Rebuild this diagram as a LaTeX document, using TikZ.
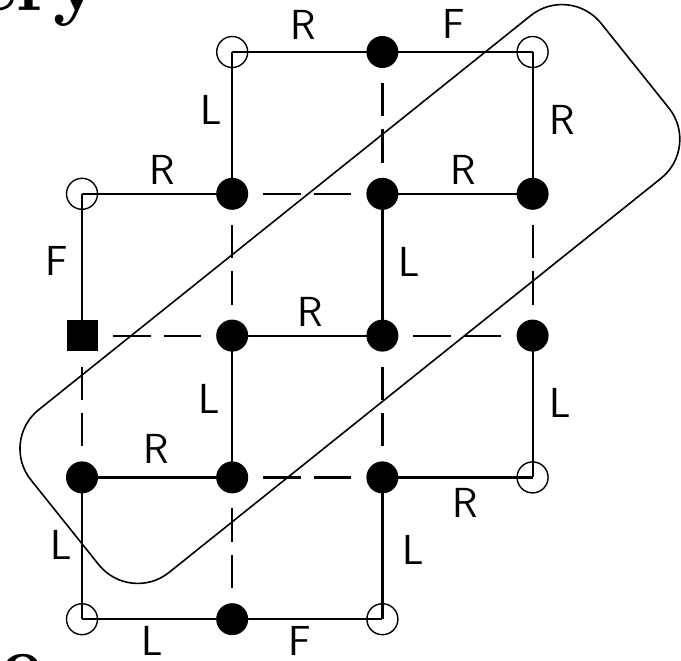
\documentclass[tikz,border=0pt]{standalone}
\usepackage{fontspec}
\begin{document}
\begin{tikzpicture}[x=1pt,y=-1pt,
  edge/.style={line width=2.2pt},
  hdash/.style={line width=2.2pt, dash pattern=on 37.5pt off 13pt, shorten <=31pt, shorten >=31pt},
  vdash/.style={line width=2.2pt, dash pattern=on 33.5pt off 13pt, shorten <=31pt, shorten >=31pt},
  fullnode/.style={circle, fill=black, minimum size=32pt, inner sep=0pt},
  opennode/.style={circle, draw=black, line width=1.4pt, minimum size=31pt, inner sep=0pt},
  squarenode/.style={rectangle, fill=black, minimum size=31pt, inner sep=0pt},
  lab/.style={font=\sffamily\fontsize{42}{42}\selectfont, inner sep=0pt},
  bigtext/.style={font=\fontsize{80}{80}\selectfont\bfseries, inner sep=0pt},
  groupbox/.style={draw=black, line width=1.6pt, rounded corners=50pt, inner sep=0pt,
    minimum width=730.5pt, minimum height=208.5pt, rotate=38.7}]
\useasboundingbox (0,0) rectangle (681,661);
\clip (0,0) rectangle (681,661);
% partial headings
\node[bigtext, anchor=base east] (head) at (101,11) {ery};
\node[bigtext, anchor=base west] (foot) at (-35,690) {re};
% grid nodes
\node[opennode] (r0c1) at (232.2,52) {};
\node[fullnode] (r0c2) at (382.4,52) {};
\node[opennode] (r0c3) at (532.6,52) {};
\node[opennode] (r1c0) at (82,193.8) {};
\node[fullnode] (r1c1) at (232.2,193.8) {};
\node[fullnode] (r1c2) at (382.4,193.8) {};
\node[fullnode] (r1c3) at (532.6,193.8) {};
\node[squarenode] (r2c0) at (82,335.6) {};
\node[fullnode] (r2c1) at (232.2,335.6) {};
\node[fullnode] (r2c2) at (382.4,335.6) {};
\node[fullnode] (r2c3) at (532.6,335.6) {};
\node[fullnode] (r3c0) at (82,477.4) {};
\node[fullnode] (r3c1) at (232.2,477.4) {};
\node[fullnode] (r3c2) at (382.4,477.4) {};
\node[opennode] (r3c3) at (532.6,477.4) {};
\node[opennode] (r4c0) at (82,619.2) {};
\node[fullnode] (r4c1) at (232.2,619.2) {};
\node[opennode] (r4c2) at (382.4,619.2) {};
% solid connectors
\draw[edge] (r0c1.center) -- (r0c2.center);
\draw[edge] (r0c2.center) -- (r0c3.center);
\draw[edge] (r0c1.center) -- (r1c1.center);
\draw[edge] (r0c3.center) -- (r1c3.center);
\draw[edge] (r1c0.center) -- (r1c1.center);
\draw[edge] (r1c2.center) -- (r1c3.center);
\draw[edge] (r1c0.center) -- (r2c0.center);
\draw[edge] (r1c2.center) -- (r2c2.center);
\draw[edge] (r2c1.center) -- (r2c2.center);
\draw[edge] (r2c3.center) -- (r3c3.center);
\draw[edge] (r2c1.center) -- (r3c1.center);
\draw[edge] (r3c0.center) -- (r3c1.center);
\draw[edge] (r3c2.center) -- (r3c3.center);
\draw[edge] (r3c0.center) -- (r4c0.center);
\draw[edge] (r3c2.center) -- (r4c2.center);
\draw[edge] (r4c0.center) -- (r4c1.center);
\draw[edge] (r4c1.center) -- (r4c2.center);
% dashed connectors
\draw[vdash] (r0c2.center) -- (r1c2.center);
\draw[hdash] (r1c1.center) -- (r1c2.center);
\draw[vdash] (r1c1.center) -- (r2c1.center);
\draw[vdash] (r1c3.center) -- (r2c3.center);
\draw[hdash] (r2c0.center) -- (r2c1.center);
\draw[hdash] (r2c2.center) -- (r2c3.center);
\draw[vdash] (r2c0.center) -- (r3c0.center);
\draw[vdash] (r2c2.center) -- (r3c2.center);
\draw[hdash] (r3c1.center) -- (r3c2.center);
\draw[vdash] (r3c1.center) -- (r4c1.center);
% labels
\node[lab] (t1) at (303,25) {R};
\node[lab] (t2) at (454,24) {F};
\node[lab] (t3) at (211,110) {L};
\node[lab] (t4) at (562,120) {R};
\node[lab] (t5) at (162,170) {R};
\node[lab] (t6) at (463,170) {R};
\node[lab] (t7) at (57,261) {F};
\node[lab] (t8) at (409,262) {L};
\node[lab] (t9) at (310,312) {R};
\node[lab] (t10) at (560,403) {L};
\node[lab] (t11) at (209,399) {L};
\node[lab] (t12) at (156,449) {R};
\node[lab] (t13) at (465,503) {R};
\node[lab] (t14) at (61,545) {L};
\node[lab] (t15) at (413,550) {L};
\node[lab] (t16) at (152,641) {L};
\node[lab] (t17) at (300,641) {F};
% grouping outline
\node[groupbox] (group) at (349.9,294) {};
\end{tikzpicture}
\end{document}
